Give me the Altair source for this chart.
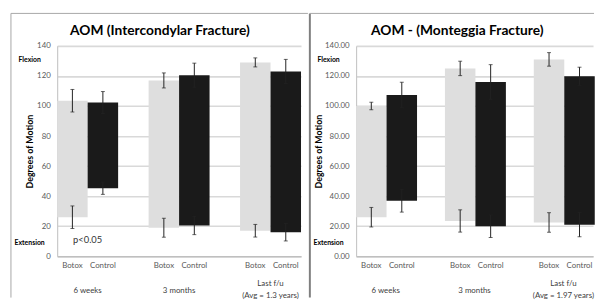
import altair as alt
import pandas as pd

groups = ["6 weeks", "3 months", "Last f/u"]
treatments = ["Botox", "Control"]

# AOM (Intercondylar Fracture)
ic_botox_flex = [103.5, 117.0, 129.0]
ic_botox_flex_err = [7.5, 5.0, 3.0]
ic_botox_ext = [26.0, 19.0, 17.0]
ic_botox_ext_err = [7.5, 6.3, 4.2]
ic_control_flex = [102.3, 120.5, 123.0]
ic_control_flex_err = [7.3, 8.0, 8.0]
ic_control_ext = [45.3, 20.5, 16.0]
ic_control_ext_err = [4.1, 6.1, 5.8]

# AOM - (Monteggia Fracture)
mg_botox_flex = [100.0, 125.0, 131.0]
mg_botox_flex_err = [2.5, 4.8, 4.5]
mg_botox_ext = [26.0, 23.5, 22.5]
mg_botox_ext_err = [6.5, 7.4, 6.5]
mg_control_flex = [107.3, 116.0, 119.8]
mg_control_flex_err = [8.5, 11.5, 6.0]
mg_control_ext = [37.0, 20.0, 21.0]
mg_control_ext_err = [7.6, 7.5, 8.0]

y_ticks = [0, 20, 40, 60, 80, 100, 120, 140]
FONT = "Lato"
PLOT_H = 214


def panel(bf, bfe, be, bee, cf, cfe, ce, cee, title, avg, fmt, width,
          title_x, right_edge, frame_w, frame_col, pval, ytitle_x):
    bar_rows, err_rows = [], []
    for i, g in enumerate(groups):
        for t, f, fe, e, ee in (("Botox", bf[i], bfe[i], be[i], bee[i]),
                                ("Control", cf[i], cfe[i], ce[i], cee[i])):
            bar_rows.append({"group": g, "treatment": t, "ext": e, "flex": f})
            err_rows.append({"group": g, "treatment": t, "lo": f - fe, "hi": f + fe})
            err_rows.append({"group": g, "treatment": t, "lo": e - ee, "hi": e + ee})
    bars_df = pd.DataFrame(bar_rows)
    err_df = pd.DataFrame(err_rows)

    xscale = alt.Scale(domain=groups, paddingInner=1 / 3, paddingOuter=0)
    xaxis = alt.Axis(labels=False, ticks=False, title=None, grid=False,
                     domainColor="#bfbfbf", domainWidth=1.5)
    x = alt.X("group:N", sort=groups, scale=xscale, axis=xaxis)
    xo = alt.XOffset("treatment:N", sort=treatments,
                     scale=alt.Scale(domain=treatments, paddingInner=0, paddingOuter=0))
    yscale = alt.Scale(domain=[0, 140], nice=False)
    yaxis = alt.Axis(values=y_ticks, format=fmt, title="Degrees of Motion",
                     ticks=False, labelPadding=7, labelFontSize=8,
                     labelOverlap=False, labelColor="#595959", labelFont=FONT,
                     titleFont=FONT, titleFontSize=9, titleFontWeight="bold",
                     titleColor="#000000", titleX=ytitle_x,
                     titleY=PLOT_H / 2, titleBaseline="middle",
                     gridColor="#d9d9d9", gridWidth=1.6,
                     domainColor="#c8c8c8", domainWidth=1.2)

    def Y(field):
        return alt.Y(field, scale=yscale, axis=yaxis)

    bars = alt.Chart(bars_df).mark_bar().encode(
        x=x, xOffset=xo, y=Y("ext:Q"), y2="flex:Q",
        color=alt.Color("treatment:N", scale=alt.Scale(domain=treatments,
                        range=["#dedede", "#1a1a1a"]), legend=None),
    )
    err = alt.Chart(err_df).mark_rule(color="#222222", strokeWidth=1).encode(
        x=x, xOffset=xo, y=Y("lo:Q"), y2="hi:Q")
    cap_lo = alt.Chart(err_df).mark_tick(color="#222222", thickness=1, size=4).encode(
        x=x, xOffset=xo, y=Y("lo:Q"))
    cap_hi = alt.Chart(err_df).mark_tick(color="#222222", thickness=1, size=4).encode(
        x=x, xOffset=xo, y=Y("hi:Q"))

    tlabels = alt.Chart(bars_df).mark_text(font=FONT, fontSize=8, color="#595959",
                                            baseline="middle").encode(
        x=x, xOffset=xo, text="treatment:N", y=alt.value(PLOT_H + 10))

    glab = pd.DataFrame({"group": groups, "line1": ["6 weeks", "3 months", "Last f/u"],
                         "line2": ["", "", avg], "single": [True, True, False]})
    g_single = alt.Chart(glab).transform_filter("datum.single").mark_text(
        font=FONT, fontSize=8, color="#404040", baseline="middle").encode(
        x=x, text="line1:N", y=alt.value(PLOT_H + 35))
    g_double1 = alt.Chart(glab).transform_filter("!datum.single").mark_text(
        font=FONT, fontSize=8, color="#404040", baseline="middle").encode(
        x=x, text="line1:N", y=alt.value(PLOT_H + 28.5))
    g_double2 = alt.Chart(glab).transform_filter("!datum.single").mark_text(
        font=FONT, fontSize=8, color="#404040", baseline="middle").encode(
        x=x, text="line2:N", y=alt.value(PLOT_H + 40.5))

    ends = pd.DataFrame({"label": ["Flexion", "Extension"], "v": [130.7, 8.5]})
    end_txt = alt.Chart(ends).mark_text(font=FONT, fontSize=7, fontWeight="bold",
                                        color="#000000", baseline="middle").encode(
        x=alt.value(-28), y=Y("v:Q"), text="label:N")

    ttl = alt.Chart(pd.DataFrame({"t": [title]})).mark_text(
        font=FONT, fontSize=14, fontWeight="bold", color="#000000",
        baseline="middle").encode(x=alt.value(title_x), y=alt.value(-15), text="t:N")

    one = pd.DataFrame({"k": [0]})
    vframe = alt.Chart(one).mark_rule(color=frame_col, strokeWidth=frame_w).encode(
        x=alt.value(-47), y=alt.value(-33), y2=alt.value(PLOT_H + 42))
    hframe = alt.Chart(one).mark_rule(color="#a6a6a6", strokeWidth=1).encode(
        x=alt.value(-47), x2=alt.value(right_edge), y=alt.value(-33))

    layers = [bars, err, cap_lo, cap_hi, tlabels, g_single, g_double1, g_double2,
              end_txt, ttl, vframe, hframe]
    if pval:
        pdf = pd.DataFrame({"group": ["6 weeks"], "v": [11.0], "t": ["p<0.05"]})
        layers.append(alt.Chart(pdf).mark_text(font=FONT, fontSize=9.5, color="#333333",
                                               baseline="middle").encode(
            x=x, y=Y("v:Q"), text="t:N"))
    return alt.layer(*layers).properties(width=width, height=PLOT_H)


left = panel(ic_botox_flex, ic_botox_flex_err, ic_botox_ext, ic_botox_ext_err,
             ic_control_flex, ic_control_flex_err, ic_control_ext, ic_control_ext_err,
             "AOM (Intercondylar Fracture)", "(Avg = 1.3 years)", "d", 248,
             104.5, 255, 1, "#a6a6a6", True, -28)
right = panel(mg_botox_flex, mg_botox_flex_err, mg_botox_ext, mg_botox_ext_err,
              mg_control_flex, mg_control_flex_err, mg_control_ext, mg_control_ext_err,
              "AOM - (Monteggia Fracture)", "(Avg = 1.97 years)", ".2f", 241,
              103, 242, 2, "#7f7f7f", False, -38)

chart = alt.hconcat(left, right, spacing=0).properties(
    padding={"left": 2, "top": 2, "right": 0, "bottom": 0}
).configure_view(stroke=None).configure_concat(spacing=0)

chart.save("out.html", embed_options={"renderer": "svg", "actions": False})
